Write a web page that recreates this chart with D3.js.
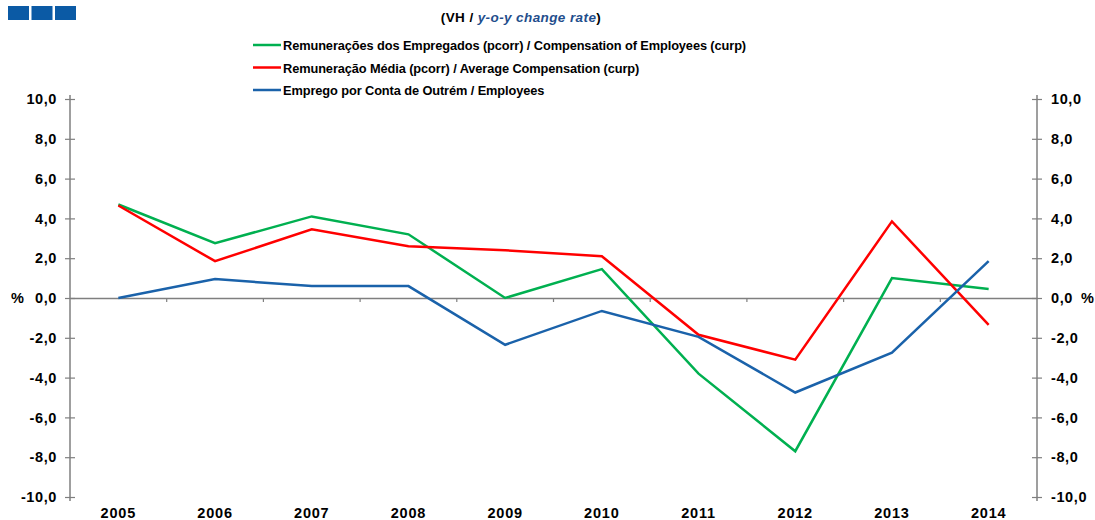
<!DOCTYPE html>
<html>
<head>
<meta charset="utf-8">
<script src="https://cdn.jsdelivr.net/npm/d3@7.9.0/dist/d3.min.js"></script>
<style>
  body { margin: 0; background: #fff; }
  svg text { font-family: "Liberation Sans", Arial, sans-serif; font-weight: bold; }
</style>
</head>
<body>
<svg id="chart" width="1095" height="520"></svg>
<script>
// categories and series (y-o-y change, %)
const years = ["2005", "2006", "2007", "2008", "2009", "2010", "2011", "2012", "2013", "2014"];
const compEmployees = [4.7, 2.75, 4.1, 3.2, 0.0, 1.45, -3.8, -7.7, 1.0, 0.45];
const avgCompensation = [4.65, 1.85, 3.45, 2.6, 2.4, 2.1, -1.85, -3.1, 3.85, -1.35];
const employees = [0.0, 0.95, 0.6, 0.6, -2.35, -0.65, -1.95, -4.75, -2.75, 1.85];
const yTicks = [-10, -8, -6, -4, -2, 0, 2, 4, 6, 8, 10];

const series = [
  { label: "Remunerações dos Empregados (pcorr) / Compensation of Employees (curp)", values: compEmployees, color: "#00b050" },
  { label: "Remuneração Média (pcorr) / Average Compensation (curp)", values: avgCompensation, color: "#ff0000" },
  { label: "Emprego por Conta de Outrém / Employees", values: employees, color: "#1a62aa" }
];

const svg = d3.select("#chart");
const plotLeft = 70, plotRight = 1037, plotTop = 99, plotBottom = 497;

const x = d3.scaleBand().domain(years).range([plotLeft, plotRight]);
const y = d3.scaleLinear().domain([-10, 10]).range([plotBottom, plotTop]);
// comma decimals, plain hyphen for negatives
const fmt = d => d.toFixed(1).replace(".", ",");
const axisColor = "#7f7f7f";

// decorative blue squares
svg.selectAll("rect.logo")
  .data([0, 1, 2])
  .enter().append("rect")
  .attr("x", i => 8 + i * 23.5)
  .attr("y", 6)
  .attr("width", 21)
  .attr("height", 14)
  .attr("fill", "#0b5aa5");

// title
const title = svg.append("text")
  .attr("x", 521).attr("y", 22)
  .attr("text-anchor", "middle")
  .attr("font-size", 13.5)
  .attr("letter-spacing", 0.4);
title.append("tspan").text("(VH / ");
title.append("tspan").attr("fill", "#1f4e8c").attr("font-style", "italic").text("y-o-y change rate");
title.append("tspan").text(")");

// legend
const legend = svg.selectAll("g.legend")
  .data(series)
  .enter().append("g")
  .attr("transform", (d, i) => `translate(253,${45 + i * 22.5})`);
legend.append("line")
  .attr("x1", 0).attr("x2", 28)
  .attr("stroke", d => d.color)
  .attr("stroke-width", 2.5);
legend.append("text")
  .attr("x", 30).attr("y", 5)
  .attr("font-size", 12.8)
  .attr("letter-spacing", -0.1)
  .text(d => d.label);

// left axis
const yLeft = svg.append("g")
  .attr("transform", `translate(${plotLeft},0)`)
  .call(d3.axisLeft(y).tickValues(yTicks).tickFormat(fmt).tickSizeInner(5).tickSizeOuter(0).tickPadding(8));
// right axis
const yRight = svg.append("g")
  .attr("transform", `translate(${plotRight},0)`)
  .call(d3.axisRight(y).tickValues(yTicks).tickFormat(fmt).tickSizeInner(5).tickSizeOuter(0).tickPadding(9));

[yLeft, yRight].forEach(g => {
  g.select(".domain").attr("stroke", axisColor).attr("stroke-width", 1.5);
  g.selectAll(".tick line").attr("stroke", axisColor).attr("stroke-width", 1.2)
    .attr("x1", -5).attr("x2", 5);
  g.selectAll(".tick text").attr("fill", "#000").attr("font-size", 14.5)
    .attr("letter-spacing", 0.6)
    .attr("font-family", "Liberation Sans, Arial, sans-serif").attr("font-weight", "bold");
});
// extend axis lines slightly past the end ticks
yLeft.select(".domain").attr("d", `M0,${plotTop - 4}V${plotBottom + 4}`);
yRight.select(".domain").attr("d", `M0,${plotTop - 4}V${plotBottom + 4}`);

// % labels
svg.append("text").attr("x", 11).attr("y", y(0) + 5).attr("font-size", 14.5).text("%");
svg.append("text").attr("x", 1081).attr("y", y(0) + 5).attr("font-size", 14.5).text("%");

// category axis on the zero line
const xAxis = svg.append("g")
  .attr("transform", `translate(0,${y(0)})`)
  .call(d3.axisBottom(x).tickSize(0).tickFormat(""));
xAxis.select(".domain").attr("stroke", axisColor).attr("stroke-width", 1.5);
xAxis.selectAll(".tick").remove();
xAxis.selectAll("line.sep")
  .data(years.slice(1))
  .enter().append("line")
  .attr("x1", d => x(d)).attr("x2", d => x(d))
  .attr("y1", 0).attr("y2", 4)
  .attr("stroke", axisColor).attr("stroke-width", 1.2);

// year labels at the bottom
svg.selectAll("text.year")
  .data(years)
  .enter().append("text")
  .attr("class", "year")
  .attr("x", d => x(d) + x.bandwidth() / 2)
  .attr("y", 518)
  .attr("text-anchor", "middle")
  .attr("font-size", 14.5)
  .attr("letter-spacing", 0.8)
  .text(d => d);

// lines
const line = d3.line()
  .x((d, i) => x(years[i]) + x.bandwidth() / 2)
  .y(d => y(d));
svg.selectAll("path.series")
  .data(series)
  .enter().append("path")
  .attr("fill", "none")
  .attr("stroke", d => d.color)
  .attr("stroke-width", 2.5)
  .attr("d", d => line(d.values));
</script>
</body>
</html>
